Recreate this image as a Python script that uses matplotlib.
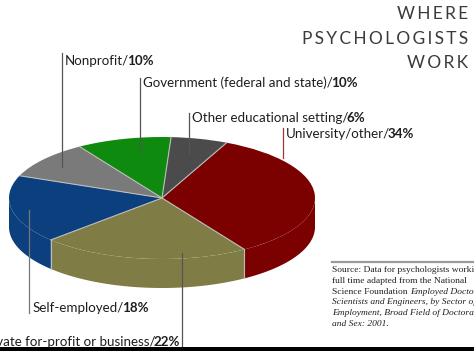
import numpy as np
import matplotlib.pyplot as plt
from matplotlib.transforms import Affine2D

# data
sectors = ["University/other/", "Private for-profit or business/", "Self-employed/",
           "Nonprofit/", "Government (federal and state)/", "Other educational setting/"]
shares = [34, 22, 18, 10, 10, 6]
colors = ["#7b0000", "#7f7d45", "#0b3f7e", "#7a7a7a", "#0e8a0e", "#4b4b4b"]

title_lines = ["WHERE", "PSYCHOLOGISTS", "WORK"]
source_lines = [
    [("Source: Data for psychologists working", "normal")],
    [("full time adapted from the National", "normal")],
    [("Science Foundation ", "normal"), ("Employed Doctorate", "italic")],
    [("Scientists and Engineers, by Sector of", "italic")],
    [("Employment, Broad Field of Doctorate", "italic")],
    [("and Sex: 2001.", "italic")],
]

W, H = 474, 351
fig = plt.figure(figsize=(W / 100, H / 100), dpi=100)
ax = fig.add_axes([0, 0, 1, 1])

# pie geometry (pixels, y up)
cx, cy = 162, H - 198
a, b, depth = 153, 61, 29
squash = Affine2D().scale(a, b).translate(cx, cy) + ax.transData

wedges, _ = ax.pie(shares, colors=colors, startangle=65, counterclock=False,
                   frame=True, wedgeprops=dict(linewidth=0))
ax.set_aspect("auto")
ax.set_xlim(0, W)
ax.set_ylim(0, H)
ax.axis("off")

for w in wedges:
    w.set_transform(squash)
    w.set_zorder(3)
    # visible side of the slab (front half of ellipse)
    for k in (-2, -1, 0, 1):
        lo = max(w.theta1, 180 + 360 * k)
        hi = min(w.theta2, 360 + 360 * k)
        if hi > lo:
            t = np.radians(np.linspace(lo, hi, 80))
            x = cx + a * np.cos(t)
            y = cy + b * np.sin(t)
            ax.fill(np.r_[x, x[::-1]], np.r_[y, y[::-1] - depth],
                    color=w.get_facecolor(), lw=0, zorder=2)

# slice borders
edge = "#bdbdbd"
for w in wedges:
    t = np.radians(w.theta2)
    ex, ey = cx + a * np.cos(t), cy + b * np.sin(t)
    ax.plot([cx, ex], [cy, ey], color=edge, lw=0.8, zorder=4)
    if np.sin(t) < 0:
        ax.plot([ex, ex], [ey, ey - depth], color=edge, lw=0.8, zorder=4)

# leader lines: x, y_top, y_bottom (image px)
leaders = [(283, 128, 158, "#9a3a3a"), (182, 253, 351, "#555555"), (29, 210, 313, "#777777"),
           (62, 53, 167, "#555555"), (140, 78, 152, "#555555"), (189, 113, 153, "#555555")]
for x, y0, y1, c in leaders:
    ax.plot([x, x], [H - y0, H - y1], color=c, lw=0.9, zorder=5)

lab_font = ["Lato", "DejaVu Sans"]
fs = 9.6
txt_c = "#1e1e1e"


def label(x, y, name, pct, right=False):
    if right:
        t = ax.text(x, H - y, pct, fontsize=fs, fontweight="bold", family=lab_font,
                    ha="right", va="center", color=txt_c)
        ax.annotate(name, xy=(0, 0), xycoords=t, xytext=(1.5, 0), textcoords="offset points",
                    ha="right", va="bottom", fontsize=fs, family=lab_font, color=txt_c)
    else:
        t = ax.text(x, H - y, name, fontsize=fs, family=lab_font,
                    ha="left", va="center", color=txt_c)
        ax.annotate(pct, xy=(1, 0), xycoords=t, xytext=(-1.5, 0), textcoords="offset points",
                    ha="left", va="bottom", fontsize=fs, fontweight="bold",
                    family=lab_font, color=txt_c)


label_pos = [(286, 134, False), (180, 342, True), (33, 308, False),
             (65, 61, False), (143, 83, False), (192, 118, False)]
for (x, y, r), name, s in zip(label_pos, sectors, shares):
    label(x, y, name, f"{s}%", right=r)

# title, with extra tracking between letters
for i, line in enumerate(title_lines):
    spaced = "\u200a\u200a".join(line)
    ax.text(468, H - (14 + 24.5 * i), spaced, fontsize=12.5, family=lab_font,
            ha="right", va="center", color="#3a3a3a")

# source note
ax.plot([332, W], [H - 262, H - 262], color="#9a9a9a", lw=1.6)
for i, parts in enumerate(source_lines):
    prev = None
    for txt, st in parts:
        if prev is None:
            prev = ax.text(332, H - (270 + 10.8 * i), txt, fontsize=6.8, style=st,
                           family="Liberation Serif", ha="left", va="center", color="#222222")
        else:
            prev = ax.annotate(txt, xy=(1, 0), xycoords=prev, ha="left", va="bottom",
                               fontsize=6.8, style=st, family="Liberation Serif", color="#222222")

# black strip at bottom edge
ax.fill([0, W, W, 0], [0, 0, 4, 4], color="black", lw=0, zorder=6)

fig.savefig("out.png", dpi=100)
